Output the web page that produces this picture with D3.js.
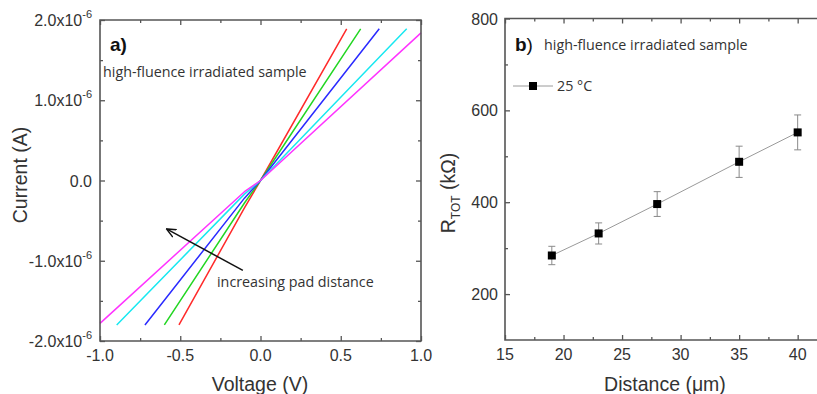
<!DOCTYPE html>
<html>
<head>
<meta charset="utf-8">
<script src="https://cdn.jsdelivr.net/npm/d3@7"></script>
<style>
  body { margin: 0; background: #fff; }
  svg { display: block; }
  .tl { font-family: "Liberation Sans", Arial, sans-serif; font-size: 16px; fill: #333; }
  .ttl { font-family: "Liberation Sans", Arial, sans-serif; font-size: 19.5px; fill: #333; }
  .note { font-family: "Open Sans", Lato, sans-serif; font-size: 14.3px; fill: #333; }
</style>
</head>
<body>
<svg id="chart" width="817" height="394"></svg>
<script>
// panel a) : I-V curves, voltage in V, current in uA
const voltTicks = [-1.0, -0.5, 0.0, 0.5, 1.0];
const voltMinor = [-0.75, -0.25, 0.25, 0.75];
const currTicks = [-2, -1, 0, 1, 2];
const currMinor = [-1.5, -0.5, 0.5, 1.5];
const curveColors = ["#ff2a2a", "#22d622", "#2a2aff", "#18e8f0", "#ff33ff"];
const ivRed = [[-0.508, -1.80], [-0.10, -0.34], [0, 0], [0.537, 1.89]];
const ivGreen = [[-0.599, -1.80], [-0.10, -0.28], [0, 0], [0.624, 1.89]];
const ivBlue = [[-0.72, -1.80], [-0.10, -0.22], [0, 0], [0.74, 1.89]];
const ivCyan = [[-0.896, -1.80], [-0.10, -0.17], [0, 0], [0.911, 1.89]];
const ivMagenta = [[-1.0, -1.78], [-0.10, -0.14], [0, 0], [1.0, 1.84]];
const ivCurves = [ivRed, ivGreen, ivBlue, ivCyan, ivMagenta];

// panel b) : total resistance vs pad distance
const distance = [19, 23, 28, 35, 40];
const rTot = [284, 332, 396, 488, 552];
const rErr = [20, 23, 27, 34, 38];
const distTicks = [15, 20, 25, 30, 35, 40, 45];
const distLabels = [15, 20, 25, 30, 35, 40];
const distMinor = [17.5, 22.5, 27.5, 32.5, 37.5, 42.5];
const rTicks = [200, 400, 600, 800];
const rMinor = [300, 500, 700];

const svg = d3.select("#chart");
const axisColor = "#555";

// helper: draw frame ticks for one panel (ticks point inward on all sides)
let frameAxes = (x, y, xt, xm, yt, ym, right) => {
    const [x0, x1] = x.range();
    const [y0, y1] = y.range(); // y0 bottom, y1 top
    const parts = [
        [d3.axisBottom(x).tickValues(xt).tickSize(-5), y0],
        [d3.axisBottom(x).tickValues(xm).tickSize(-3), y0],
        [d3.axisTop(x).tickValues(xt).tickSize(-5), y1],
        [d3.axisTop(x).tickValues(xm).tickSize(-3), y1]
    ];
    parts.forEach(p => {
        svg.append("g").attr("transform", "translate(0," + p[1] + ")")
            .call(p[0].tickFormat(""))
            .call(g => g.select(".domain").remove());
    });
    const yparts = [
        [d3.axisLeft(y).tickValues(yt).tickSize(-5), x0],
        [d3.axisLeft(y).tickValues(ym).tickSize(-3), x0]
    ];
    if (right) {
        yparts.push([d3.axisRight(y).tickValues(yt).tickSize(-5), x1]);
        yparts.push([d3.axisRight(y).tickValues(ym).tickSize(-3), x1]);
    }
    yparts.forEach(p => {
        svg.append("g").attr("transform", "translate(" + p[1] + ",0)")
            .call(p[0].tickFormat(""))
            .call(g => g.select(".domain").remove());
    });
    svg.selectAll(".tick line").attr("stroke", axisColor).attr("stroke-width", 1.3);
    // frame (panel b runs off the right edge of the picture)
    svg.append("path")
        .attr("d", right
            ? "M" + x0 + "," + y1 + "H" + x1 + "V" + y0 + "H" + x0 + "Z"
            : "M" + 817 + "," + y1 + "H" + x0 + "V" + y0 + "H" + 817)
        .attr("fill", "none").attr("stroke", axisColor).attr("stroke-width", 1.6);
}

// ---------------- panel a)
const xA = d3.scaleLinear().domain([-1, 1]).range([100, 421]);
const yA = d3.scaleLinear().domain([-2, 2]).range([341, 20]);

const lineA = d3.line().x(d => xA(d[0])).y(d => yA(d[1]));
ivCurves.forEach((c, i) => {
    svg.append("path").datum(c)
        .attr("d", lineA)
        .attr("fill", "none")
        .attr("stroke", curveColors[i])
        .attr("stroke-width", 1.5)
        .attr("stroke-linejoin", "round");
});
frameAxes(xA, yA, voltTicks, voltMinor, currTicks, currMinor, true);

// x tick labels
voltTicks.forEach(v => {
    svg.append("text").attr("class", "tl")
        .attr("x", xA(v)).attr("y", 361)
        .attr("text-anchor", "middle")
        .text(d3.format(".1f")(v).replace("−", "-"));
});
// y tick labels with superscript
currTicks.forEach(v => {
    const t = svg.append("text").attr("class", "tl")
        .attr("x", 92).attr("y", yA(v) + 6)
        .attr("text-anchor", "end");
    if (v === 0) {
        t.text("0.0");
    } else {
        t.append("tspan").text((v < 0 ? "-" : "") + Math.abs(v).toFixed(1) + "x10");
        t.append("tspan").attr("dy", -8).style("font-size", "11px").text("-6");
    }
});

svg.append("text").attr("class", "ttl")
    .attr("transform", "translate(27,175) rotate(-90)")
    .attr("text-anchor", "middle")
    .text("Current (A)");
svg.append("text").attr("class", "ttl")
    .attr("x", 260).attr("y", 391)
    .attr("text-anchor", "middle")
    .text("Voltage (V)");

svg.append("text").attr("x", 110).attr("y", 51)
    .attr("font-family", "Liberation Sans, Arial, sans-serif")
    .attr("font-size", 19).attr("font-weight", "bold").attr("fill", "#111")
    .text("a)");
svg.append("text").attr("class", "note").attr("x", 103).attr("y", 77)
    .text("high-fluence irradiated sample");

// arrow
svg.append("defs").append("marker")
    .attr("id", "head").attr("viewBox", "0 0 10 10")
    .attr("refX", 8).attr("refY", 5)
    .attr("markerWidth", 7).attr("markerHeight", 7)
    .attr("orient", "auto")
    .append("path").attr("d", "M0,1 L9,5 L0,9").attr("fill", "none")
    .attr("stroke", "#111").attr("stroke-width", 1.4);
svg.append("line")
    .attr("x1", xA(-0.11)).attr("y1", yA(-1.12))
    .attr("x2", xA(-0.58)).attr("y2", yA(-0.61))
    .attr("stroke", "#111").attr("stroke-width", 1.5)
    .attr("marker-end", "url(#head)");
svg.append("text").attr("class", "note").attr("x", 217).attr("y", 287)
    .text("increasing pad distance");

// ---------------- panel b)
const xB = d3.scaleLinear().domain([15, 45]).range([505, 856.2]);
const yB = d3.scaleLinear().domain([100, 800]).range([340, 18.5]);

frameAxes(xB, yB, distTicks, distMinor, rTicks, rMinor, false);

svg.append("path").datum(distance.map((d, i) => [d, rTot[i]]))
    .attr("d", d3.line().x(d => xB(d[0])).y(d => yB(d[1])))
    .attr("fill", "none").attr("stroke", "#9a9a9a").attr("stroke-width", 1);

const eb = svg.append("g").attr("stroke", "#8a8a8a").attr("stroke-width", 1);
distance.forEach((d, i) => {
    const cx = xB(d);
    eb.append("line").attr("x1", cx).attr("x2", cx)
        .attr("y1", yB(rTot[i] - rErr[i])).attr("y2", yB(rTot[i] + rErr[i]));
    [rTot[i] - rErr[i], rTot[i] + rErr[i]].forEach(v => {
        eb.append("line").attr("x1", cx - 3.5).attr("x2", cx + 3.5)
            .attr("y1", yB(v)).attr("y2", yB(v));
    });
});
svg.append("g").selectAll("rect").data(distance).join("rect")
    .attr("x", d => xB(d) - 4).attr("y", (d, i) => yB(rTot[i]) - 4)
    .attr("width", 8).attr("height", 8).attr("fill", "#000");

distLabels.forEach(v => {
    svg.append("text").attr("class", "tl")
        .attr("x", xB(v)).attr("y", 360)
        .attr("text-anchor", "middle").text(v);
});
rTicks.forEach(v => {
    svg.append("text").attr("class", "tl")
        .attr("x", 498).attr("y", yB(v) + 6)
        .attr("text-anchor", "end").text(v);
});

const rl = svg.append("text").attr("class", "ttl")
    .attr("transform", "translate(455,193) rotate(-90)")
    .attr("text-anchor", "middle");
rl.append("tspan").text("R");
rl.append("tspan").style("font-size", "12px").attr("dy", 5).text("TOT");
rl.append("tspan").attr("dy", -5).text(" (k\u03A9)");

svg.append("text").attr("class", "ttl")
    .attr("x", 665).attr("y", 391)
    .attr("text-anchor", "middle")
    .text("Distance (\u03BCm)");

const bl = svg.append("text").attr("x", 515).attr("y", 51)
    .attr("font-family", "Liberation Sans, Arial, sans-serif")
    .attr("font-size", 19).attr("fill", "#111");
bl.append("tspan").attr("font-weight", "bold").text("b");
bl.append("tspan").text(")");
svg.append("text").attr("class", "note").attr("x", 544).attr("y", 50)
    .text("high-fluence irradiated sample");

// legend
svg.append("line").attr("x1", 513).attr("x2", 553).attr("y1", 86).attr("y2", 86)
    .attr("stroke", "#9a9a9a").attr("stroke-width", 1);
svg.append("rect").attr("x", 529).attr("y", 82).attr("width", 8).attr("height", 8).attr("fill", "#000");
svg.append("text").attr("class", "note").attr("x", 557).attr("y", 91)
    .text("25 \u00B0C");
</script>
</body>
</html>
